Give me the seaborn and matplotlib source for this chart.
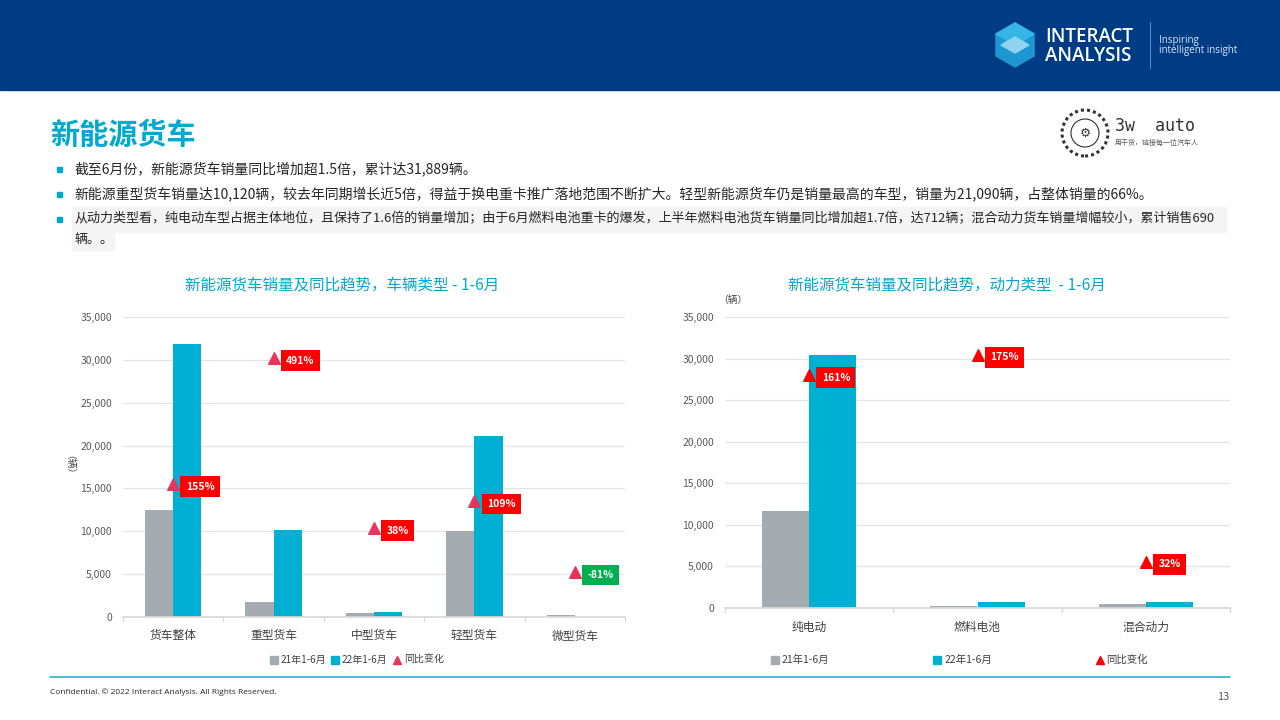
import numpy as np
import pandas as pd
import matplotlib
matplotlib.use('Agg')
import matplotlib.pyplot as plt
import matplotlib.patches as mpatches
from matplotlib.lines import Line2D
import seaborn as sns

# 数据
vehicle_types = ['货车整体', '重型货车', '中型货车', '轻型货车', '微型货车']
vehicle_21 = [12505, 1712, 450, 10091, 215]
vehicle_22 = [31889, 10120, 620, 21090, 41]
vehicle_yoy = [155, 491, 38, 109, -81]

power_types = ['纯电动', '燃料电池', '混合动力']
power_21 = [11660, 259, 523]
power_22 = [30440, 712, 690]
power_yoy = [161, 175, 32]

series_names = ['21年1-6月', '22年1-6月']
bullets = [
    '截至6月份，新能源货车销量同比增加超1.5倍，累计达31,889辆。',
    '新能源重型货车销量达10,120辆，较去年同期增长近5倍，得益于换电重卡推广落地范围不断扩大。轻型新能源货车仍是销量最高的车型，销量为21,090辆，占整体销量的66%。',
    '从动力类型看，纯电动车型占据主体地位，且保持了1.6倍的销量增加；由于6月燃料电池重卡的爆发，上半年燃料电池货车销量同比增加超1.7倍，达712辆；混合动力货车销量增幅较小，累计销售690',
]

GRAY = '#a5acb1'
CYAN = '#00b0d3'
TITLE_CYAN = '#00a9ce'
NAVY = '#003c84'

sns.set_theme(style='white')
plt.rcParams['font.family'] = ['Noto Sans CJK SC', 'DejaVu Sans']

W, H = 1280, 720
fig = plt.figure(figsize=(12.8, 7.2), dpi=100)


def fx(x):
    return x / W


def fy(y):
    return 1 - y / H


# 顶部横幅
fig.patches.append(mpatches.Rectangle((0, fy(90)), 1, 90 / H, transform=fig.transFigure,
                                      color=NAVY, zorder=0))
# logo 六边形
hx, hy, r = 1015, 45, 22
ang = np.radians(np.arange(6) * 60 + 30)
hexa = [(fx(hx + r * np.cos(a)), fy(hy + r * np.sin(a))) for a in ang]
fig.patches.append(mpatches.Polygon(hexa, closed=True, transform=fig.transFigure,
                                    color='#1e96d2', zorder=1))
top = [(fx(hx - 19), fy(hy - 11)), (fx(hx), fy(hy - 22)), (fx(hx + 19), fy(hy - 11)), (fx(hx), fy(hy))]
fig.patches.append(mpatches.Polygon(top, closed=True, transform=fig.transFigure,
                                    color='#35b6e6', zorder=1.5))
inner = [(fx(hx - 14), fy(hy)), (fx(hx), fy(hy - 8)), (fx(hx + 14), fy(hy)), (fx(hx), fy(hy + 8))]
fig.patches.append(mpatches.Polygon(inner, closed=True, transform=fig.transFigure,
                                    color='#8fd3ee', zorder=2))
fig.text(fx(1045), fy(37), 'INTERACT', color='white', fontsize=13.5, fontweight='semibold',
         va='center', family=['Open Sans', 'DejaVu Sans'])
fig.text(fx(1045), fy(56), 'ANALYSIS', color='white', fontsize=13.5, fontweight='semibold',
         va='center', family=['Open Sans', 'DejaVu Sans'])
fig.add_artist(Line2D([fx(1150), fx(1150)], [fy(22), fy(68)], color='#4a8fd0', lw=0.8))
fig.text(fx(1159), fy(40), 'Inspiring', color='#dce8f5', fontsize=7, va='center',
         family=['Open Sans', 'DejaVu Sans'])
fig.text(fx(1159), fy(51), 'intelligent insight', color='#dce8f5', fontsize=7, va='center',
         family=['Open Sans', 'DejaVu Sans'])

# 3w auto logo
fig.patches.append(mpatches.Ellipse((fx(1085), fy(133)), 46 / W, 46 / H, transform=fig.transFigure,
                                    fill=False, ec='#333333', lw=2.2, ls=(0, (1, 1))))
fig.patches.append(mpatches.Ellipse((fx(1085), fy(133)), 28 / W, 28 / H, transform=fig.transFigure,
                                    fill=False, ec='#333333', lw=0.8))
fig.text(fx(1085), fy(133), '⚙', fontsize=9, ha='center', va='center', color='#333333')
fig.text(fx(1115), fy(126), '3w  auto', fontsize=12, va='center', color='#333333',
         family=['DejaVu Sans Mono'])
fig.text(fx(1115), fy(143), '用干货，链接每一位汽车人', fontsize=5, va='center', color='#555555')

# 标题和要点
fig.text(fx(50), fy(135), '新能源货车', fontsize=21, fontweight='bold', color=TITLE_CYAN, va='center')
fig.patches.append(mpatches.Rectangle((fx(72), fy(232)), (1226 - 72) / W, 25 / H,
                                      transform=fig.transFigure, color='#f4f4f4', zorder=0))
fig.patches.append(mpatches.Rectangle((fx(72), fy(250)), 42 / W, 18 / H,
                                      transform=fig.transFigure, color='#f4f4f4', zorder=0))
for txt, yy, fs in zip(bullets, [169, 194, 219], [10, 10, 9.4]):
    fig.patches.append(mpatches.Rectangle((fx(57), fy(yy + 3)), 5 / W, 5 / H,
                                          transform=fig.transFigure, color=TITLE_CYAN))
    fig.text(fx(74), fy(yy), txt, fontsize=fs, color='#262626', va='center')
fig.text(fx(74), fy(240), '辆。。', fontsize=9.4, color='#262626', va='center')


def draw_chart(rect, cats, v21, v22, yoy, y2lim, tri_color, title, title_x):
    ax = fig.add_axes(rect)
    df = pd.DataFrame({
        'cat': cats * 2,
        'series': [series_names[0]] * len(cats) + [series_names[1]] * len(cats),
        'value': list(v21) + list(v22),
    })
    sns.barplot(data=df, x='cat', y='value', hue='series', palette=[GRAY, CYAN],
                width=0.56, gap=0, ax=ax, legend=False, saturation=1, linewidth=0)
    ax.set_ylim(0, 35000)
    ax.set_yticks(np.arange(0, 35001, 5000))
    ax.set_yticklabels([f'{v:,}' for v in range(0, 35001, 5000)], fontsize=7.5, color='#595959')
    ax.yaxis.grid(True, color='#e4e4e4', lw=0.9)
    ax.set_axisbelow(True)
    ax.set_xlabel('')
    ax.set_ylabel('')
    ax.tick_params(axis='x', labelsize=8.5, colors='#404040', length=0, pad=9)
    ax.tick_params(axis='y', length=0, pad=8)
    for s in ['top', 'right', 'left']:
        ax.spines[s].set_visible(False)
    ax.spines['bottom'].set_color('#d9d9d9')
    # 分类间刻度
    for b in np.arange(-0.5, len(cats), 1.0):
        ax.plot([b, b], [0, -500], color='#d9d9d9', lw=0.9, clip_on=False)
    ax.set_xlim(-0.5, len(cats) - 0.5)

    ax2 = ax.twinx()
    ax2.set_ylim(*y2lim)
    ax2.axis('off')
    x = np.arange(len(cats))
    ax2.scatter(x, yoy, marker='^', s=70, color=tri_color, zorder=5)
    for xi, p in zip(x, yoy):
        fc = '#00b050' if p < 0 else '#ff0000'
        ax2.annotate(f'{p}%', (xi, p), xytext=(9, -2), textcoords='offset points',
                     fontsize=7.5, fontweight='bold', color='white', va='center', ha='left',
                     bbox=dict(boxstyle='square,pad=0.5', fc=fc, ec='none'), zorder=6)
    fig.text(title_x, fy(285), title, fontsize=11.2, color=TITLE_CYAN, ha='center', va='center')
    return ax


ax1 = draw_chart([fx(123), fy(617), 502 / W, 300 / H], vehicle_types, vehicle_21, vehicle_22,
                 vehicle_yoy, (-200, 600), '#e8345a', '新能源货车销量及同比趋势，车辆类型 - 1-6月', fx(342))
fig.text(fx(64), fy(470), '（辆）', fontsize=7, rotation=-90, ha='center', va='center', color='#404040')

ax2 = draw_chart([fx(725), fy(608), 505 / W, 291 / H], power_types, power_21, power_22,
                 power_yoy, (0, 201), '#ff0000', '新能源货车销量及同比趋势，动力类型  - 1-6月', fx(947))
fig.text(fx(733), fy(300), '（辆）', fontsize=7, ha='center', va='center', color='#404040')


# 图例
def legend_handles(tri_color):
    return [
        Line2D([], [], marker='s', ls='', color=GRAY, markersize=6, label=series_names[0]),
        Line2D([], [], marker='s', ls='', color=CYAN, markersize=6, label=series_names[1]),
        Line2D([], [], marker='^', ls='', color=tri_color, markersize=6, label='同比变化'),
    ]


fig.legend(handles=legend_handles('#e8345a'), loc='center', bbox_to_anchor=(fx(355), fy(660)),
           ncol=3, frameon=False, fontsize=7.2, handletextpad=-0.1, columnspacing=0.2,
           handlelength=1.5, labelcolor='#404040')
fig.legend(handles=legend_handles('#ff0000'), loc='center left', bbox_to_anchor=(fx(758), fy(660)),
           ncol=3, frameon=False, fontsize=7.5, handletextpad=-0.1, columnspacing=9.6,
           handlelength=1.5, labelcolor='#404040')

# 页脚
fig.add_artist(Line2D([fx(50), fx(1230)], [fy(677), fy(677)], color='#2ab0d8', lw=1.2))
fig.text(fx(50), fy(692), 'Confidential. © 2022 Interact Analysis. All Rights Reserved.',
         fontsize=6, color='#262626', va='center', family=['Open Sans', 'DejaVu Sans'])
fig.text(fx(1229), fy(697), '13', fontsize=8, color='#595959', va='center', ha='right')

fig.savefig('out.png', dpi=100)
